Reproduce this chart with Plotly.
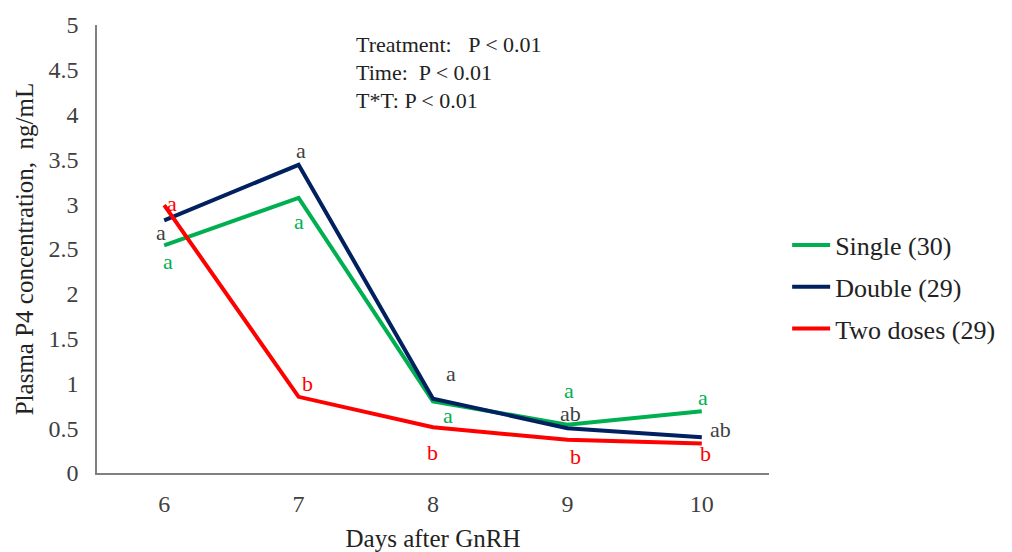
import plotly.graph_objects as go

days = ["6", "7", "8", "9", "10"]
single = [2.54, 3.07, 0.80, 0.54, 0.69]
double = [2.82, 3.44, 0.83, 0.50, 0.40]
two_doses = [2.99, 0.85, 0.51, 0.37, 0.33]

single_letters = ["a", "a", "a", "a", "a"]
double_letters = ["a", "a", "a", "ab", "ab"]
two_letters = ["a", "b", "b", "b", "b"]

# pixel offsets of the letters relative to their point
single_shift = [(4, -16), (0, -24), (15, -14), (2, 34), (1, 14)]
double_shift = [(-3, -12), (2, 14), (18, 25), (3, 15), (19, 8)]
two_shift = [(8, 2), (9, 13), (-1, -25), (8, -17), (4, -10)]

names = ["Single (30)", "Double (29)", "Two doses (29)"]
colors = ["#00B050", "#002060", "#FF0000"]
letter_colors = ["#00B050", "#404040", "#FF0000"]

FONT = "Liberation Serif, Times New Roman, serif"

fig = go.Figure()
series = [single, double, two_doses]
letters = [single_letters, double_letters, two_letters]
shifts = [single_shift, double_shift, two_shift]
for i, (vals, nm, col) in enumerate(zip(series, names, colors)):
    fig.add_trace(go.Scatter(x=days, y=vals, mode="lines", name=nm,
                             line=dict(color=col, width=4),
                             legendgroup=str(i)))

annotations = []
for vals, lets, shs, lc in zip(series, letters, shifts, letter_colors):
    for idx, (v, l, (dx, dy)) in enumerate(zip(vals, lets, shs)):
        annotations.append(dict(x=idx, y=v, xref="x", yref="y", text=l,
                                showarrow=False, xshift=dx, yshift=dy,
                                font=dict(family=FONT, size=22, color=lc)))

stats = ["Treatment:&nbsp;&nbsp; P < 0.01", "Time:&nbsp; P < 0.01", "T*T: P < 0.01"]
for k, s in enumerate(stats):
    annotations.append(dict(x=0.382, y=(473 - 44 - 28 * k) / 448,
                            xref="paper", yref="paper", text=s, showarrow=False,
                            xanchor="left", yanchor="middle",
                            font=dict(family=FONT, size=22, color="#222222")))

# the page body adds an 8px offset, so the figure is sized/margined to compensate
fig.update_layout(
    width=1004, height=544,
    margin=dict(l=89, r=240, t=17, b=79),
    paper_bgcolor="white", plot_bgcolor="white",
    font=dict(family=FONT, size=24, color="#404040"),
    showlegend=True,
    legend=dict(x=1.027, y=0.415, xanchor="left", yanchor="middle",
                font=dict(family=FONT, size=26, color="#222222"),
                tracegroupgap=5, itemwidth=38, bgcolor="rgba(0,0,0,0)"),
    annotations=annotations,
    xaxis=dict(type="category", range=[-0.5, 4.5], showline=True,
               linecolor="#808080", linewidth=1.5, showgrid=False, ticks="",
               ticklabelstandoff=8, zeroline=False, automargin=False,
               title=dict(text="Days after GnRH", standoff=15,
                          font=dict(family=FONT, size=25, color="#222222")),
               tickfont=dict(family=FONT, size=24, color="#404040")),
    yaxis=dict(range=[0, 5], dtick=0.5, tick0=0, showline=True,
               linecolor="#808080", linewidth=1.5, showgrid=False, ticks="",
               zeroline=False, ticklabelstandoff=12, automargin=False,
               title=dict(text="Plasma P4 concentration,&nbsp; ng/mL", standoff=8,
                          font=dict(family=FONT, size=25, color="#222222")),
               tickfont=dict(family=FONT, size=24, color="#404040")),
)

fig.write_html("out.html")
